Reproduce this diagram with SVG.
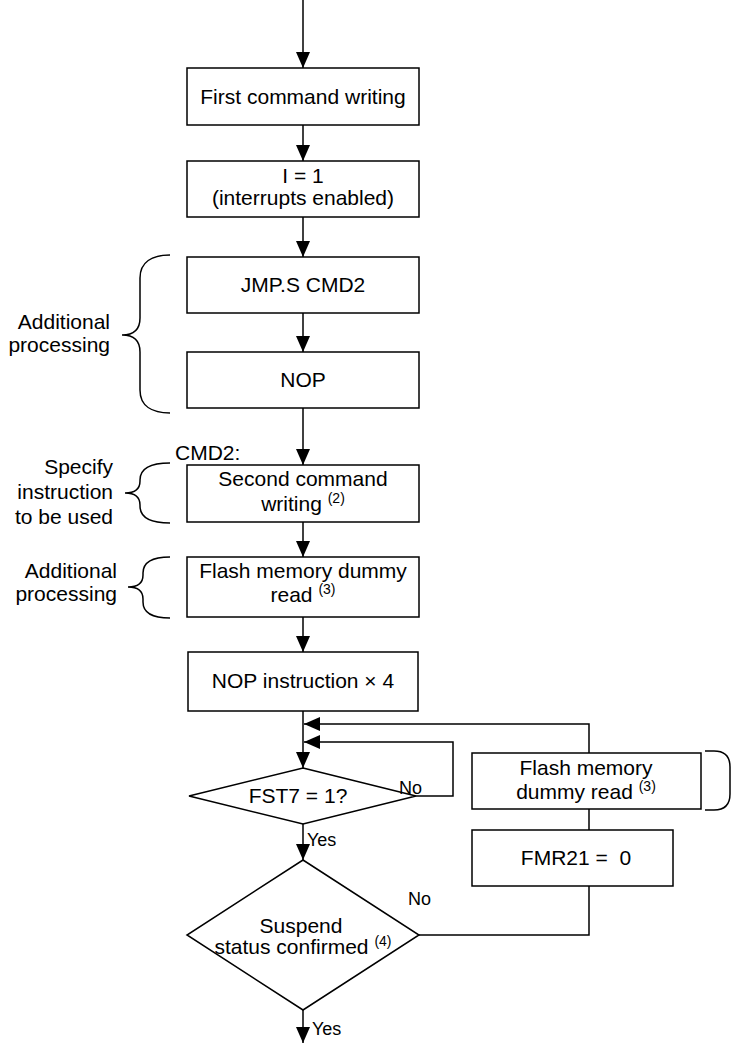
<svg xmlns="http://www.w3.org/2000/svg" width="731" height="1043" viewBox="0 0 731 1043">
<defs>
<style>
.box{fill:#fff;stroke:#000;stroke-width:1.5}
.ln{fill:none;stroke:#000;stroke-width:1.5}
.t{font-family:"Liberation Sans",Arial,sans-serif;font-size:21px;fill:#000}
.c{text-anchor:middle}
.r{text-anchor:end}
.s{font-size:14px}
.yn{font-family:"Liberation Sans",Arial,sans-serif;font-size:18px;fill:#000}
</style>
<marker id="ah" viewBox="0 0 16 14" refX="16" refY="7" markerWidth="16" markerHeight="14" markerUnits="userSpaceOnUse" orient="auto">
<path d="M0,0 L16,7 L0,14 z" fill="#000"/>
</marker>
</defs>
<rect width="731" height="1043" fill="#fff"/>

<g id="connectors">
<path class="ln" d="M303,0 V68" marker-end="url(#ah)"/>
<path class="ln" d="M303,125 V161" marker-end="url(#ah)"/>
<path class="ln" d="M303,217 V257" marker-end="url(#ah)"/>
<path class="ln" d="M303,313 V352" marker-end="url(#ah)"/>
<path class="ln" d="M303,408 V465" marker-end="url(#ah)"/>
<path class="ln" d="M303,522 V557" marker-end="url(#ah)"/>
<path class="ln" d="M303,617 V652" marker-end="url(#ah)"/>
<path class="ln" d="M303,711 V768" marker-end="url(#ah)"/>
<path class="ln" d="M589,753 V724 H304" marker-end="url(#ah)"/>
<path class="ln" d="M416,796 H453 V742 H304" marker-end="url(#ah)"/>
<path class="ln" d="M303,824 V860" marker-end="url(#ah)"/>
<path class="ln" d="M589,809 V830"/>
<path class="ln" d="M589,886 V935 H419"/>
<path class="ln" d="M303,1010 V1043" marker-end="url(#ah)"/>
</g>

<g id="n1">
<rect class="box" x="187" y="68" width="232" height="57"/>
<text class="t c" x="303" y="104">First command writing</text>
</g>
<g id="n2">
<rect class="box" x="187" y="161" width="232" height="56"/>
<text class="t c" x="303" y="183">I = 1</text>
<text class="t c" x="303" y="205">(interrupts enabled)</text>
</g>
<g id="n3">
<rect class="box" x="187" y="257" width="232" height="56"/>
<text class="t c" x="303" y="292">JMP.S CMD2</text>
</g>
<g id="n4">
<rect class="box" x="187" y="352" width="232" height="56"/>
<text class="t c" x="303" y="387">NOP</text>
</g>
<g id="n5">
<text class="t" x="175" y="460">CMD2:</text>
<rect class="box" x="187" y="465" width="232" height="57"/>
<text class="t c" x="303" y="486">Second command</text>
<text class="t c" x="303" y="511">writing <tspan class="s" dy="-8">(2)</tspan></text>
</g>
<g id="n6">
<rect class="box" x="187" y="557" width="232" height="60"/>
<text class="t c" x="303" y="578">Flash memory dummy</text>
<text class="t c" x="303" y="602">read <tspan class="s" dy="-8">(3)</tspan></text>
</g>
<g id="n7">
<rect class="box" x="188" y="652" width="230" height="59"/>
<text class="t c" x="303" y="688">NOP instruction × 4</text>
</g>
<g id="d1">
<polygon class="box" points="303,768 416,796 303,824 189,796"/>
<text class="t c" x="298" y="803">FST7 = 1?</text>
<text class="yn" x="399" y="794">No</text>
<text class="yn" x="307" y="846">Yes</text>
</g>
<g id="n8">
<rect class="box" x="472" y="753" width="229" height="56"/>
<text class="t c" x="586" y="775">Flash memory</text>
<text class="t c" x="586" y="799">dummy read <tspan class="s" dy="-8">(3)</tspan></text>
</g>
<g id="n9">
<rect class="box" x="472" y="830" width="201" height="56"/>
<text class="t c" x="576" y="865" xml:space="preserve">FMR21 =  0</text>
</g>
<g id="d2">
<polygon class="box" points="303,860 419,935 303,1010 187,935"/>
<text class="t c" x="301" y="933">Suspend</text>
<text class="t c" x="303" y="954">status confirmed <tspan class="s" dy="-8">(4)</tspan></text>
<text class="yn" x="408" y="905">No</text>
<text class="yn" x="312" y="1035">Yes</text>
</g>

<g id="brace1">
<path class="ln" d="M170,255 C152,255 140,262 140,278 V318 Q140,335 122,335 Q140,335 140,352 V390 C140,406 152,413 170,413"/>
<text class="t r" x="110" y="329">Additional</text>
<text class="t r" x="110" y="352">processing</text>
</g>
<g id="brace2">
<path class="ln" d="M170,463 C152,463 140,468 140,480 V481 Q140,493 125,493 Q140,493 140,505 V506 C140,518 152,523 170,523"/>
<text class="t r" x="113" y="474">Specify</text>
<text class="t r" x="113" y="499">instruction</text>
<text class="t r" x="113" y="524">to be used</text>
</g>
<g id="brace3">
<path class="ln" d="M170,557 C153,557 143,562 143,573 V575 Q143,587 128,587 Q143,587 143,599 V602 C143,613 153,618 170,618"/>
<text class="t r" x="117" y="578">Additional</text>
<text class="t r" x="117" y="601">processing</text>
</g>
<g id="brace4">
<path class="ln" d="M705,751 H714 Q730,751 730,767 V794 Q730,810 714,810 H705"/>
</g>
</svg>
